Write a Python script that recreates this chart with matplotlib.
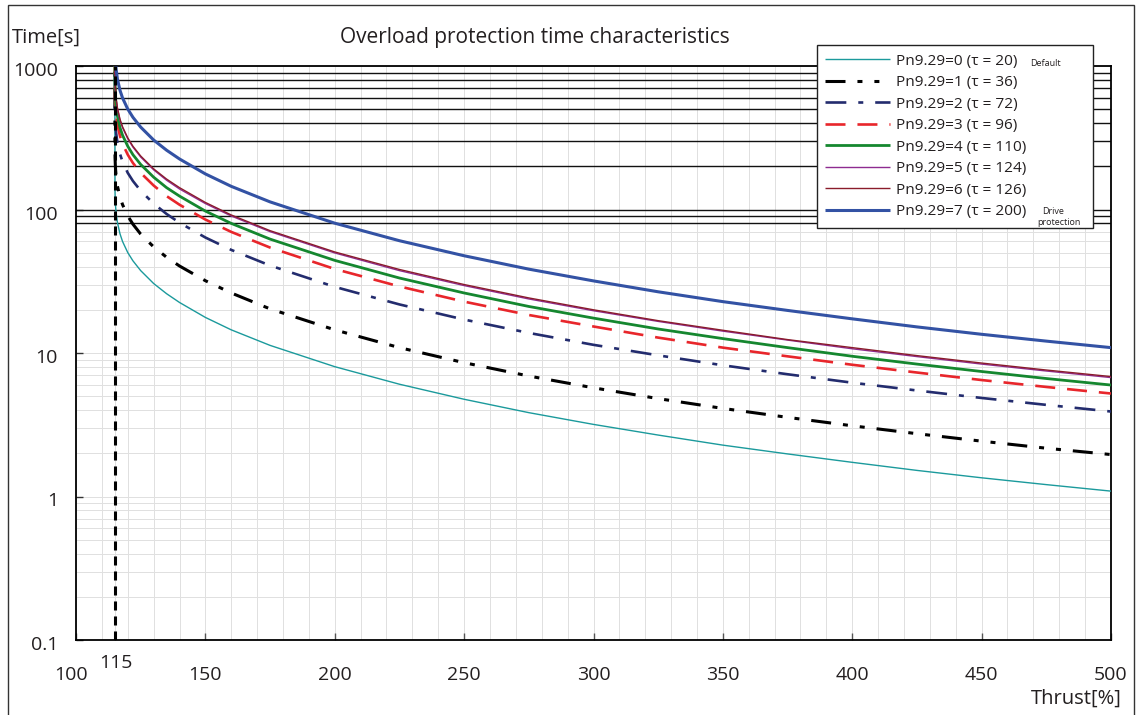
import matplotlib
matplotlib.use("Agg")
import matplotlib.pyplot as plt
import matplotlib.transforms as mtransforms
from matplotlib.patches import Rectangle
from matplotlib.ticker import MultipleLocator, LogLocator, NullFormatter

plt.rcParams['font.family'] = ['Open Sans', 'DejaVu Sans']
plt.rcParams['lines.scale_dashes'] = False

# ---------------- data ----------------
thrust = [115.0, 115.05, 115.1, 115.2, 115.3, 115.5, 116, 117, 118, 120, 122, 125,
          130, 135, 140, 150, 160, 175, 200, 225, 250, 275, 300, 325, 350, 375,
          400, 425, 450, 475, 500]

t_tau20 = [2000, 141, 127, 113, 105, 95.0, 81.3, 67.7, 59.8, 50.1, 43.9, 37.5, 30.5, 25.9,
           22.5, 17.7, 14.5, 11.3, 8.03, 6.06, 4.76, 3.84, 3.18, 2.68, 2.28, 1.98, 1.73,
           1.52, 1.35, 1.21, 1.09]
t_tau36 = [2000, 254, 229, 204, 189, 171, 146, 122, 108, 90.2, 79.0, 67.4, 54.9, 46.5,
           40.4, 31.9, 26.2, 20.3, 14.5, 10.9, 8.56, 6.91, 5.72, 4.81, 4.11, 3.56, 3.11,
           2.74, 2.43, 2.17, 1.96]
t_tau72 = [2000, 508, 458, 408, 379, 342, 293, 244, 215, 180, 158, 135, 110, 93.1, 80.9,
           63.8, 52.3, 40.7, 28.9, 21.8, 17.1, 13.8, 11.4, 9.63, 8.21, 7.11, 6.21, 5.48,
           4.86, 4.35, 3.91]
t_tau96 = [2000, 677, 610, 544, 505, 456, 390, 325, 287, 241, 211, 180, 147, 124, 108,
           85.1, 69.8, 54.3, 38.5, 29.1, 22.8, 18.4, 15.3, 12.8, 10.9, 9.48, 8.28, 7.31,
           6.48, 5.80, 5.22]
t_tau110 = [2000, 775, 699, 623, 579, 523, 447, 372, 329, 276, 241, 206, 168, 142, 124,
            97.5, 80.0, 62.2, 44.2, 33.3, 26.2, 21.1, 17.5, 14.7, 12.6, 10.9, 9.49, 8.37,
            7.43, 6.64, 5.98]
t_tau124 = [2000, 874, 788, 702, 652, 589, 504, 420, 371, 311, 272, 232, 189, 160, 139,
            110, 90.1, 70.1, 49.8, 37.5, 29.5, 23.8, 19.7, 16.6, 14.2, 12.3, 10.7, 9.44,
            8.37, 7.49, 6.74]
t_tau126 = [2000, 888, 801, 714, 663, 599, 512, 426, 377, 316, 276, 236, 192, 163, 142,
            112, 91.6, 71.2, 50.6, 38.2, 30.0, 24.2, 20.0, 16.8, 14.4, 12.4, 10.9, 9.59,
            8.51, 7.61, 6.85]
t_tau200 = [2000, 1410, 1271, 1133, 1052, 950, 813, 677, 598, 501, 439, 375, 305, 259, 225,
            177, 145, 113, 80.3, 60.6, 47.6, 38.4, 31.8, 26.7, 22.8, 19.8, 17.3, 15.2,
            13.5, 12.1, 10.9]

series_labels = ["Pn9.29=0 (τ = 20)", "Pn9.29=1 (τ = 36)", "Pn9.29=2 (τ = 72)",
                 "Pn9.29=3 (τ = 96)", "Pn9.29=4 (τ = 110)", "Pn9.29=5 (τ = 124)",
                 "Pn9.29=6 (τ = 126)", "Pn9.29=7 (τ = 200)"]

x_ticks = [100, 115, 150, 200, 250, 300, 350, 400, 450, 500]
x_ticklabels = ["100", "115", "150", "200", "250", "300", "350", "400", "450", "500"]
y_ticks = [0.1, 1, 10, 100, 1000]
y_ticklabels = ["0.1", "1", "10", "100", "1000"]
dark_hlines = [80, 90, 100, 200, 300, 400, 500, 600, 700, 800, 900]
limit_thrust = 115

# ---------------- styles ----------------
styles = [
    dict(color='#1b9a9c', lw=1.0, ls='-'),
    dict(color='#000000', lw=2.2, ls=(0, (14.4, 8.6, 3.6, 8.6, 3.6, 8.6))),
    dict(color='#232c6e', lw=1.9, ls=(0, (15.0, 8.6, 3.6, 8.6))),
    dict(color='#e8262b', lw=1.9, ls=(0, (14.4, 8.6))),
    dict(color='#15872f', lw=2.0, ls='-'),
    dict(color='#8e2b90', lw=1.0, ls='-'),
    dict(color='#8a1c2b', lw=1.0, ls='-'),
    dict(color='#3352a4', lw=2.2, ls='-'),
]
series = [t_tau20, t_tau36, t_tau72, t_tau96, t_tau110, t_tau124, t_tau126, t_tau200]

W, H = 1137, 715
fig = plt.figure(figsize=(W / 100, H / 100), dpi=100)
ax = fig.add_axes([76 / W, 1 - 640 / H, (1111 - 76) / W, (640 - 66) / H])

ax.set_yscale('log')
ax.set_xlim(100, 500)
ax.set_ylim(0.1, 1000)

# grid
ax.xaxis.set_minor_locator(MultipleLocator(10))
ax.yaxis.set_minor_locator(LogLocator(base=10, subs=range(2, 10)))
ax.yaxis.set_minor_formatter(NullFormatter())
ax.grid(which='both', color='#e0e0e0', lw=0.7, zorder=0)
ax.set_axisbelow(True)

for v in dark_hlines:
    ax.axhline(v, color='#111111', lw=1.0, zorder=1)

# curves
for vals, st, lab in zip(series, styles, series_labels):
    ax.plot(thrust, vals, color=st['color'], lw=st['lw'], linestyle=st['ls'],
            label=lab, zorder=3, solid_capstyle='butt')

ax.axvline(limit_thrust, color='black', lw=2.2, linestyle=(0, (6.5, 4.3)), zorder=4)

# ticks
ax.set_xticks(x_ticks)
ax.set_xticklabels(x_ticklabels, fontsize=14, color='#231f20')
ax.set_yticks(y_ticks)
ax.set_yticklabels(y_ticklabels, fontsize=14, color='#231f20')
ax.tick_params(axis='x', which='major', direction='in', length=5, width=1.0,
               color='#555555', pad=19, top=False)
ax.tick_params(axis='y', which='major', direction='in', length=5, width=1.0,
               color='#333333', pad=13, right=False)
ax.tick_params(which='minor', length=0)

dpi_tr = fig.dpi_scale_trans
for lbl, t in zip(ax.get_xticklabels(), x_ticks):
    if t == 100:
        lbl.set_transform(lbl.get_transform() + mtransforms.ScaledTranslation(-5 / 100, 0, dpi_tr))
    elif t == 115:
        lbl.set_transform(lbl.get_transform() + mtransforms.ScaledTranslation(1 / 100, 12 / 100, dpi_tr))
for lbl in ax.get_yticklabels():
    lbl.set_transform(lbl.get_transform() + mtransforms.ScaledTranslation(0, -3 / 100, dpi_tr))

for sp in ax.spines.values():
    sp.set_color('black')
    sp.set_linewidth(1.3)

# texts
fig.text(12 / W, 1 - 38 / H, "Time[s]", fontsize=14.5, ha='left', va='center', color='#231f20')
fig.text(535 / W, 1 - 38 / H, "Overload protection time characteristics", fontsize=15,
         ha='center', va='center', color='#231f20')
fig.text(1122 / W, 1 - 699 / H, "Thrust[%]", fontsize=14.5, ha='right', va='center', color='#231f20')

# legend
leg = ax.legend(loc='upper left', bbox_to_anchor=(817 / W, 1 - 46 / H, (1093 - 817) / W, 0.001),
                bbox_transform=fig.transFigure, mode='expand', ncol=1, borderaxespad=0,
                fontsize=11.1, handlelength=4.2, handletextpad=0.35, labelspacing=0.42,
                borderpad=0.55, fancybox=False, framealpha=1, edgecolor='#222222')
leg.get_frame().set_linewidth(1.0)
leg.set_zorder(10)
for t in leg.get_texts():
    t.set_color('#231f20')

fig.text(1030 / W, 1 - 64 / H, "Default", fontsize=6.5, ha='left', va='center', color='#231f20', zorder=20)
fig.text(1042 / W, 1 - 211 / H, "Drive", fontsize=6.5, ha='left', va='center', color='#231f20', zorder=20)
fig.text(1037 / W, 1 - 223 / H, "protection", fontsize=6.5, ha='left', va='center', color='#231f20', zorder=20)

# outer frame
fig.patches.append(Rectangle((8 / W, -0.02), (1134 - 8) / W, 1 - 5 / H + 0.02,
                             transform=fig.transFigure, fill=False, edgecolor='#333333',
                             lw=1.0, zorder=0))

fig.savefig("out.png", dpi=100)
